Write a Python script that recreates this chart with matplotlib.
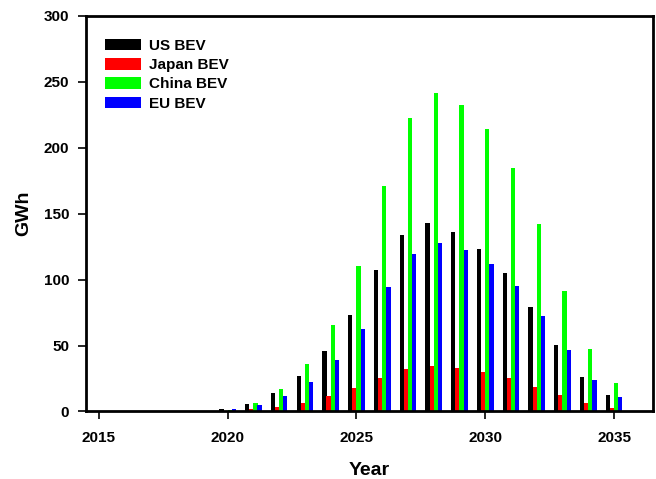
import numpy as np
import matplotlib
matplotlib.use("Agg")
import matplotlib.pyplot as plt

plt.rcParams['font.family'] = ['Liberation Sans', 'DejaVu Sans']
plt.rcParams['font.weight'] = 'bold'

years = np.arange(2015, 2036)
us_bev = [0, 0, 0, 0, 0, 1.9, 5.9, 14, 26.7, 45.9, 73, 107, 133.8, 142.7, 135.8,
          123.4, 105, 79.2, 50.7, 26.2, 12.3]
japan_bev = [0, 0, 0, 0, 0, 0.5, 1.7, 3.4, 6.7, 11.5, 17.6, 25.6, 32.5, 34.7, 33,
             29.7, 25.2, 18.8, 12.3, 6.2, 2.4]
china_bev = [0, 0, 0, 0, 0, 1.4, 6.7, 17.3, 36, 65.6, 110, 171, 222.3, 241.7, 232.6,
             214, 184.6, 142.2, 91.6, 47.2, 21.6]
eu_bev = [0, 0, 0, 0, 0, 1.9, 5.2, 11.6, 22.6, 39.3, 62.5, 94, 119.4, 128, 122.4,
          111.6, 95.4, 72.6, 46.4, 23.6, 10.7]

series = [("US BEV", us_bev, "#000000"),
          ("Japan BEV", japan_bev, "#ff0000"),
          ("China BEV", china_bev, "#00ff00"),
          ("EU BEV", eu_bev, "#0000ff")]

fig = plt.figure(figsize=(6.56, 4.79), dpi=100)
ax = fig.add_axes([0.131, 0.141, 0.864, 0.826])

width = 0.165
offsets = [-0.24, -0.08, 0.08, 0.24]
for (name, vals, col), off in zip(series, offsets):
    ax.bar(years + off, vals, width=width, color=col, label=name, linewidth=0)

ax.set_xlim(2014.5, 2036.5)
ax.set_ylim(0, 300)
ax.set_xticks([2015, 2020, 2025, 2030, 2035])
ax.set_yticks(range(0, 301, 50))
for s in ax.spines.values():
    s.set_linewidth(2)
ax.tick_params(direction='out', length=6, width=1.2, labelsize=11)
ax.tick_params(axis='x', pad=8)
ax.tick_params(axis='y', pad=6)
for lab in ax.get_xticklabels() + ax.get_yticklabels():
    lab.set_fontweight('bold')

ax.set_xlabel("Year", fontsize=14, fontweight='bold', labelpad=12)
ax.set_ylabel("GWh", fontsize=14, fontweight='bold', labelpad=8)

leg = ax.legend(loc='upper left', frameon=False, fontsize=11, handlelength=2.35,
                handleheight=0.8, labelspacing=0.34, handletextpad=0.55,
                borderaxespad=0, bbox_to_anchor=(0.023, 0.958))
for t in leg.get_texts():
    t.set_fontweight('bold')

fig.savefig("out.png", dpi=100)
